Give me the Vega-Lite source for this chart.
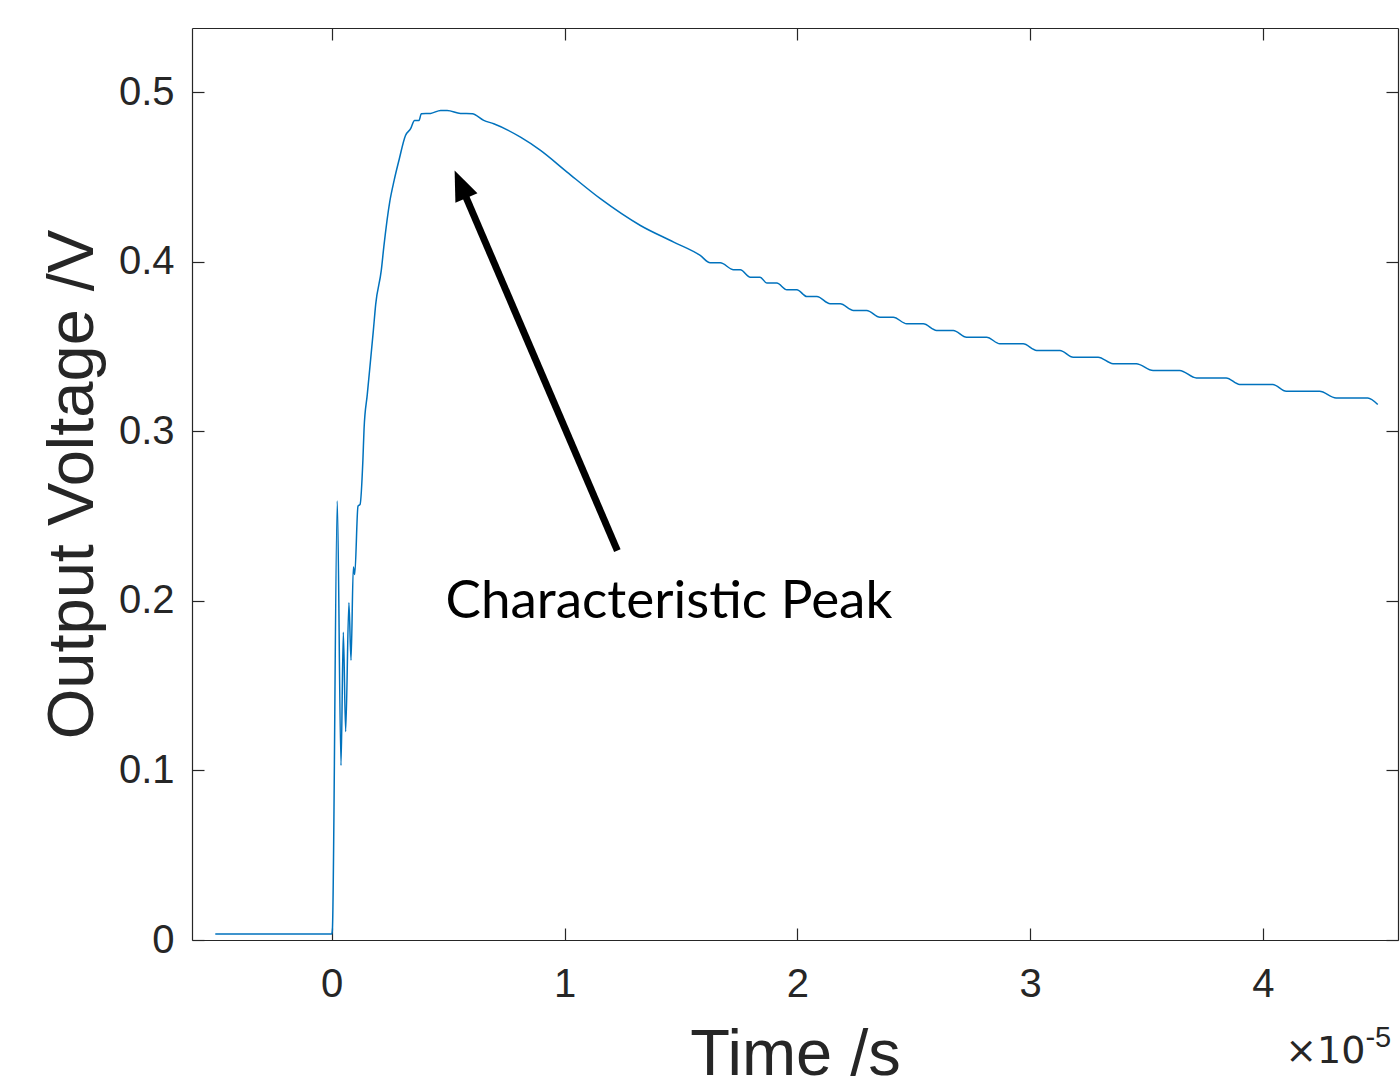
{
  "$schema": "https://vega.github.io/schema/vega-lite/v6.json",
  "width": 1206,
  "height": 912,
  "autosize": {"type": "none"},
  "padding": {"left": 192, "top": 28, "right": 2, "bottom": 139},
  "background": "white",
  "config": {
    "view": {"stroke": null},
    "axis": {
      "grid": false,
      "domainColor": "#262626",
      "domainWidth": 1.2,
      "tickColor": "#262626",
      "tickWidth": 1.2,
      "tickSize": -12,
      "labelFont": "Liberation Sans",
      "labelFontSize": 40,
      "labelColor": "#262626",
      "titleFont": "Liberation Sans",
      "titleFontSize": 65,
      "titleFontWeight": "normal",
      "titleColor": "#262626"
    }
  },
  "resolve": {"axis": {"x": "independent", "y": "independent"}},
  "layer": [
    {
      "data": {
        "values": [
          {"t": -0.5, "v": 0.0035},
          {"t": 0.0, "v": 0.0035},
          {"t": 0.003, "v": 0.006},
          {"t": 0.024, "v": 0.259},
          {"t": 0.040, "v": 0.103},
          {"t": 0.050, "v": 0.1815},
          {"t": 0.060, "v": 0.123},
          {"t": 0.074, "v": 0.199},
          {"t": 0.083, "v": 0.165},
          {"t": 0.093, "v": 0.220},
          {"t": 0.099, "v": 0.2156},
          {"t": 0.113, "v": 0.256},
          {"t": 0.122, "v": 0.257},
          {"t": 0.134, "v": 0.283},
          {"t": 0.139, "v": 0.3015},
          {"t": 0.153, "v": 0.322},
          {"t": 0.179, "v": 0.3596},
          {"t": 0.189, "v": 0.375},
          {"t": 0.213, "v": 0.395},
          {"t": 0.224, "v": 0.409},
          {"t": 0.250, "v": 0.436},
          {"t": 0.268, "v": 0.448},
          {"t": 0.289, "v": 0.460},
          {"t": 0.317, "v": 0.4746},
          {"t": 0.339, "v": 0.4786},
          {"t": 0.356, "v": 0.4835},
          {"t": 0.375, "v": 0.4835},
          {"t": 0.385, "v": 0.4874},
          {"t": 0.425, "v": 0.4876},
          {"t": 0.468, "v": 0.4894},
          {"t": 0.496, "v": 0.4894},
          {"t": 0.553, "v": 0.4876},
          {"t": 0.604, "v": 0.4874},
          {"t": 0.653, "v": 0.4835},
          {"t": 0.696, "v": 0.4815},
          {"t": 0.811, "v": 0.4736},
          {"t": 0.897, "v": 0.4658},
          {"t": 1.011, "v": 0.453},
          {"t": 1.154, "v": 0.4373},
          {"t": 1.326, "v": 0.4215},
          {"t": 1.469, "v": 0.4117},
          {"t": 1.583, "v": 0.4038},
          {"t": 1.626, "v": 0.3995},
          {"t": 1.669, "v": 0.3995},
          {"t": 1.726, "v": 0.3954},
          {"t": 1.755, "v": 0.3954},
          {"t": 1.798, "v": 0.391},
          {"t": 1.840, "v": 0.391},
          {"t": 1.869, "v": 0.3875},
          {"t": 1.912, "v": 0.3875},
          {"t": 1.955, "v": 0.3836},
          {"t": 1.998, "v": 0.3836},
          {"t": 2.041, "v": 0.3796},
          {"t": 2.084, "v": 0.3796},
          {"t": 2.141, "v": 0.3753},
          {"t": 2.184, "v": 0.3753},
          {"t": 2.241, "v": 0.3714},
          {"t": 2.298, "v": 0.3714},
          {"t": 2.355, "v": 0.3674},
          {"t": 2.412, "v": 0.3674},
          {"t": 2.47, "v": 0.3635},
          {"t": 2.541, "v": 0.3635},
          {"t": 2.598, "v": 0.3596},
          {"t": 2.670, "v": 0.3596},
          {"t": 2.727, "v": 0.3556},
          {"t": 2.813, "v": 0.3556},
          {"t": 2.87, "v": 0.3517},
          {"t": 2.97, "v": 0.3517},
          {"t": 3.028, "v": 0.3478},
          {"t": 3.128, "v": 0.3478},
          {"t": 3.185, "v": 0.3438},
          {"t": 3.292, "v": 0.3438},
          {"t": 3.356, "v": 0.340},
          {"t": 3.456, "v": 0.340},
          {"t": 3.528, "v": 0.336},
          {"t": 3.642, "v": 0.336},
          {"t": 3.714, "v": 0.3316},
          {"t": 3.842, "v": 0.3316},
          {"t": 3.9, "v": 0.3277},
          {"t": 4.042, "v": 0.3277},
          {"t": 4.1, "v": 0.3237},
          {"t": 4.243, "v": 0.3237},
          {"t": 4.314, "v": 0.3198},
          {"t": 4.45, "v": 0.3198},
          {"t": 4.493, "v": 0.3159}
        ]
      },
      "mark": {"type": "line", "color": "#0072BD", "strokeWidth": 1.5, "clip": true, "interpolate": "monotone"},
      "encoding": {
        "x": {
          "field": "t",
          "type": "quantitative",
          "scale": {"domain": [-0.6, 4.58], "nice": false, "zero": false},
          "axis": {
            "orient": "bottom",
            "values": [0, 1, 2, 3, 4],
            "format": "~g",
            "labelPadding": 36,
            "title": "Time /s",
            "titlePadding": 19
          }
        },
        "y": {
          "field": "v",
          "type": "quantitative",
          "scale": {"domain": [0, 0.538], "nice": false, "zero": false},
          "axis": {
            "orient": "left",
            "values": [0, 0.1, 0.2, 0.3, 0.4, 0.5],
            "format": "~g",
            "labelPadding": 30,
            "title": "Output Voltage /V",
            "titlePadding": 12
          }
        }
      }
    },
    {
      "data": {"values": [{}]},
      "mark": {"type": "rule", "color": "black", "strokeWidth": 7, "strokeCap": "butt"},
      "encoding": {
        "x": {
          "datum": 1.227,
          "type": "quantitative",
          "axis": {"orient": "top", "values": [0, 1, 2, 3, 4], "labels": false, "title": null}
        },
        "y": {
          "datum": 0.2297,
          "type": "quantitative",
          "axis": {"orient": "right", "values": [0, 0.1, 0.2, 0.3, 0.4, 0.5], "labels": false, "title": null}
        },
        "x2": {"datum": 0.5616},
        "y2": {"datum": 0.4431}
      }
    },
    {
      "data": {"values": [{}]},
      "mark": {
        "type": "point",
        "shape": "M0,0L-0.8,2L0.8,2Z",
        "size": 900,
        "filled": true,
        "color": "black",
        "opacity": 1,
        "angle": 336.8
      },
      "encoding": {
        "x": {"datum": 0.528, "type": "quantitative", "axis": null},
        "y": {"datum": 0.454, "type": "quantitative", "axis": null}
      }
    },
    {
      "data": {"values": [{}]},
      "mark": {
        "type": "text",
        "text": "Characteristic Peak",
        "font": "Lato",
        "fontSize": 53,
        "align": "left",
        "baseline": "alphabetic",
        "color": "black"
      },
      "encoding": {
        "x": {"datum": 0.489, "type": "quantitative", "axis": null},
        "y": {"datum": 0.190, "type": "quantitative", "axis": null}
      }
    },
    {
      "data": {"values": [{}]},
      "mark": {
        "type": "text",
        "text": "×10",
        "font": "DejaVu Sans",
        "fontSize": 38,
        "align": "right",
        "baseline": "alphabetic",
        "color": "#262626",
        "clip": false
      },
      "encoding": {
        "x": {"datum": 4.44, "type": "quantitative", "axis": null},
        "y": {"datum": -0.0724, "type": "quantitative", "axis": null}
      }
    },
    {
      "data": {"values": [{}]},
      "mark": {
        "type": "text",
        "text": "-5",
        "font": "Liberation Sans",
        "fontSize": 29,
        "align": "left",
        "baseline": "alphabetic",
        "color": "#262626",
        "clip": false
      },
      "encoding": {
        "x": {"datum": 4.44, "type": "quantitative", "axis": null},
        "y": {"datum": -0.063, "type": "quantitative", "axis": null}
      }
    }
  ]
}
